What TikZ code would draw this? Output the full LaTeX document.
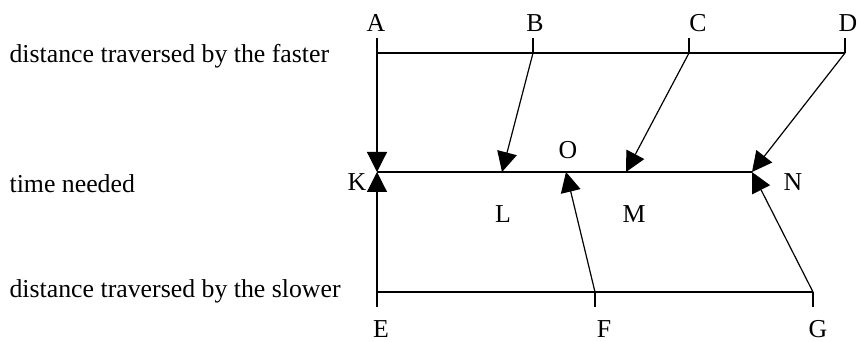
\documentclass[tikz,border=0pt]{standalone}
\usepackage{fontspec}
\setmainfont{Liberation Serif}
\usetikzlibrary{arrows.meta}
\begin{document}
\begin{tikzpicture}[x=0.5pt, y=-0.5pt, line width=0.6pt,
    lbl/.style={font=\fontsize{12.9}{15}\selectfont, inner sep=0pt, anchor=base},
    row/.style={lbl, anchor=base west},
    tip/.style={-{Triangle[length=10pt, width=10pt]}}]
  \useasboundingbox (0,0) rectangle (858,342);

  % row captions
  \node[row] (rf) at (9,63) {distance traversed by the faster};
  \node[row] (rt) at (9,192) {time needed};
  \node[row] (rs) at (9,298) {distance traversed by the slower};

  % points of the upper line (faster)
  \coordinate (a0) at (377,38);  \coordinate (a) at (377,53);
  \coordinate (b0) at (533,38);  \coordinate (b) at (533,53);
  \coordinate (c0) at (689,38);  \coordinate (c) at (689,53);
  \coordinate (d0) at (845,38);  \coordinate (d) at (845,53);

  % points of the middle line (time)
  \coordinate (k) at (377,172);
  \coordinate (l) at (502,172);
  \coordinate (o) at (566,172);
  \coordinate (m) at (626,172);
  \coordinate (n) at (752,172);

  % points of the lower line (slower)
  \coordinate (e0) at (377,307); \coordinate (e) at (377,292);
  \coordinate (f0) at (595,307); \coordinate (f) at (595,292);
  \coordinate (g0) at (813,307); \coordinate (g) at (813,292);

  % the three lines and their ticks
  \draw (a) -- (d);
  \draw (b0) -- (b);
  \draw (c0) -- (c);
  \draw (d0) -- (d);
  \draw (k) -- (n);
  \draw (e) -- (g);
  \draw (f) -- (f0);
  \draw (g) -- (g0);

  % faster onto time
  \draw[tip] (a0) -- (k);
  \draw[tip] (b) -- (l);
  \draw[tip] (c) -- (m);
  \draw[tip] (d) -- (n);

  % slower onto time
  \draw[tip] (e0) -- (k);
  \draw[tip] (f) -- (o);
  \draw[tip] (g) -- (n);

  % letters
  \node[lbl] (la) at (376,32) {A};
  \node[lbl] (lb) at (535,32) {B};
  \node[lbl] (lc) at (698,32) {C};
  \node[lbl] (ld) at (848,32) {D};
  \node[lbl] (lk) at (357,191) {K};
  \node[lbl] (lo) at (568,159) {O};
  \node[lbl] (ll) at (503,223) {L};
  \node[lbl] (lm) at (634,223) {M};
  \node[lbl] (ln) at (793,191) {N};
  \node[lbl] (le) at (381,337) {E};
  \node[lbl] (lf) at (604,337) {F};
  \node[lbl] (lg) at (818,337) {G};
\end{tikzpicture}
\end{document}
